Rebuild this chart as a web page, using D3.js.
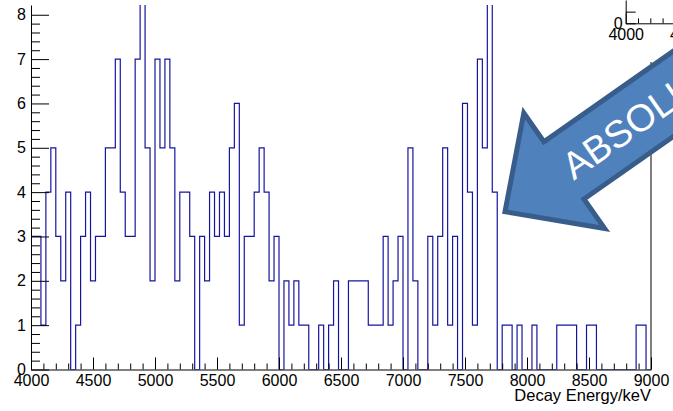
<!DOCTYPE html>
<html>
<head>
<meta charset="utf-8">
<script src="https://cdn.jsdelivr.net/npm/d3@7"></script>
<style>
  html, body { margin: 0; padding: 0; background: #fff; }
  svg { display: block; font-family: "Liberation Sans", Arial, Helvetica, sans-serif; }
</style>
</head>
<body>
<svg id="chart" width="673" height="411"></svg>
<script>
// Histogram of decay energies: 40 keV bins from 4000 to 9000 keV
const binStart = 4000;
const binWidth = 40;
const counts = [
  3, 3, 1, 4, 5, 3, 2, 4, 0, 1,   // 4000-4400
  3, 4, 2, 3, 3, 5, 5, 7, 4, 3,   // 4400-4800
  3, 7, 9, 5, 2, 7, 5, 7, 5, 2,   // 4800-5200
  4, 4, 3, 0, 3, 2, 4, 3, 4, 3,   // 5200-5600
  5, 6, 1, 3, 3, 4, 5, 4, 2, 3,   // 5600-6000
  0, 2, 1, 2, 1, 1, 0, 0, 1, 0,   // 6000-6400
  1, 2, 0, 0, 2, 2, 2, 2, 1, 1,   // 6400-6800
  1, 3, 1, 2, 3, 0, 5, 2, 0, 0,   // 6800-7200
  3, 1, 3, 5, 1, 3, 0, 6, 4, 1,   // 7200-7600
  7, 5, 9, 4, 0, 1, 1, 0, 1, 0,   // 7600-8000
  0, 1, 0, 0, 0, 0, 1, 1, 1, 1,   // 8000-8400
  0, 0, 1, 1, 0, 0, 0, 0, 0, 0,   // 8400-8800
  0, 0, 1, 1, 0                   // 8800-9000
];
const xMajorTicks = [4000, 4500, 5000, 5500, 6000, 6500, 7000, 7500, 8000, 8500, 9000];
const yMajorTicks = [0, 1, 2, 3, 4, 5, 6, 7, 8];
const xTitle = "Decay Energy/keV";
const arrowText = "ABSOLUTE";

const svg = d3.select("#chart");

const x = d3.scaleLinear().domain([4000, 9000]).range([31, 651]);
const y = d3.scaleLinear().domain([0, 8.22]).range([369.5, 5]);

const xMinorTicks = d3.range(4000, 9001, 100).filter(v => v % 500 !== 0);
const yMinorTicks = d3.range(0, 41).map(i => +(i * 0.2).toFixed(1)).filter(v => v % 1 !== 0 && v <= 8.22);

// clip region for the histogram
svg.append("defs").append("clipPath").attr("id", "frameClip")
  .append("rect").attr("x", x(4000)).attr("y", y(8.22))
  .attr("width", x(9000) - x(4000)).attr("height", y(0) - y(8.22));

// step outline of the histogram
const bins = counts.map((c, i) => ({ x0: binStart + i * binWidth, x1: binStart + (i + 1) * binWidth, c }));
const pts = [[x(bins[0].x0), y(0)]];
bins.forEach(b => { pts.push([x(b.x0), y(b.c)]); pts.push([x(b.x1), y(b.c)]); });
pts.push([x(bins[bins.length - 1].x1), y(0)]);

svg.append("path")
  .attr("clip-path", "url(#frameClip)")
  .attr("d", d3.line()(pts))
  .attr("fill", "none")
  .attr("stroke", "#1515a0")
  .attr("stroke-width", 1.2);

// right border of the frame
svg.append("line")
  .attr("x1", x(9000)).attr("x2", x(9000))
  .attr("y1", y(8.22)).attr("y2", y(0))
  .attr("stroke", "#000").attr("stroke-width", 1);

// x axis
const gx = svg.append("g").attr("transform", `translate(0,${y(0)})`);
gx.call(d3.axisBottom(x).tickValues(xMajorTicks).tickSizeInner(-12).tickSizeOuter(0)
  .tickPadding(5).tickFormat(d3.format("d")));
gx.append("g").call(d3.axisBottom(x).tickValues(xMinorTicks).tickSizeInner(-6).tickSizeOuter(0).tickFormat(""))
  .select(".domain").remove();
gx.selectAll("text").attr("font-size", 16).attr("fill", "#000").attr("font-family", null);
gx.selectAll("line, path").attr("stroke", "#000");

// y axis
const gy = svg.append("g").attr("transform", `translate(${x(4000)},0)`);
gy.call(d3.axisLeft(y).tickValues(yMajorTicks).tickSizeInner(-18).tickSizeOuter(0)
  .tickPadding(5).tickFormat(d3.format("d")));
gy.append("g").call(d3.axisLeft(y).tickValues(yMinorTicks).tickSizeInner(-9).tickSizeOuter(0).tickFormat(""))
  .select(".domain").remove();
gy.selectAll("text").attr("font-size", 16).attr("fill", "#000").attr("font-family", null);
gy.selectAll("line, path").attr("stroke", "#000");

// x axis title
svg.append("text")
  .attr("x", x(9000)).attr("y", 401)
  .attr("text-anchor", "end")
  .attr("font-size", 16.5)
  .text(xTitle);

// small companion pad in the upper right corner
const pad = svg.append("g");
pad.append("rect").attr("x", 588).attr("y", 0).attr("width", 85).attr("height", 62).attr("fill", "#fff");
const ix = d3.scaleLinear().domain([4000, 9000]).range([625.7, 625.7 + 615]);
const iy = d3.scaleLinear().domain([0, 2]).range([23.3, 0]);
const gix = pad.append("g").attr("transform", `translate(0,${iy(0)})`);
gix.call(d3.axisBottom(ix).tickValues([4000, 4500]).tickSizeInner(-10).tickSizeOuter(0)
  .tickPadding(5).tickFormat(d3.format("d")));
gix.append("g").call(d3.axisBottom(ix).tickValues([4100, 4200, 4300, 4400]).tickSizeInner(-5).tickSizeOuter(0).tickFormat(""))
  .select(".domain").remove();
gix.selectAll("text").attr("font-size", 16).attr("fill", "#000").attr("font-family", null);
gix.selectAll("line, path").attr("stroke", "#000");
const giy = pad.append("g").attr("transform", `translate(${ix(4000)},0)`);
giy.call(d3.axisLeft(iy).tickValues([0, 1]).tickSizeInner(-10).tickSizeOuter(0)
  .tickPadding(3).tickFormat(d => d === 0 ? "0" : ""));
giy.selectAll("text").attr("font-size", 16).attr("fill", "#000").attr("font-family", null);
giy.selectAll("line, path").attr("stroke", "#000");

// big call-out arrow pointing at the high-energy end
const arrow = svg.append("g").attr("transform", "translate(505,211.7) rotate(-35)");
const arrowShape = [[0, 0], [72, -70], [72, -35], [320, -35], [320, 35], [72, 35], [72, 71]];
arrow.append("path")
  .attr("d", d3.line()(arrowShape) + "Z")
  .attr("fill", "#4f81bd")
  .attr("stroke", "#385d8a")
  .attr("stroke-width", 5)
  .attr("stroke-linejoin", "miter");
arrow.append("text")
  .attr("x", 74).attr("y", 14)
  .attr("fill", "#fff")
  .attr("font-size", 38)
  .text(arrowText);
</script>
</body>
</html>
